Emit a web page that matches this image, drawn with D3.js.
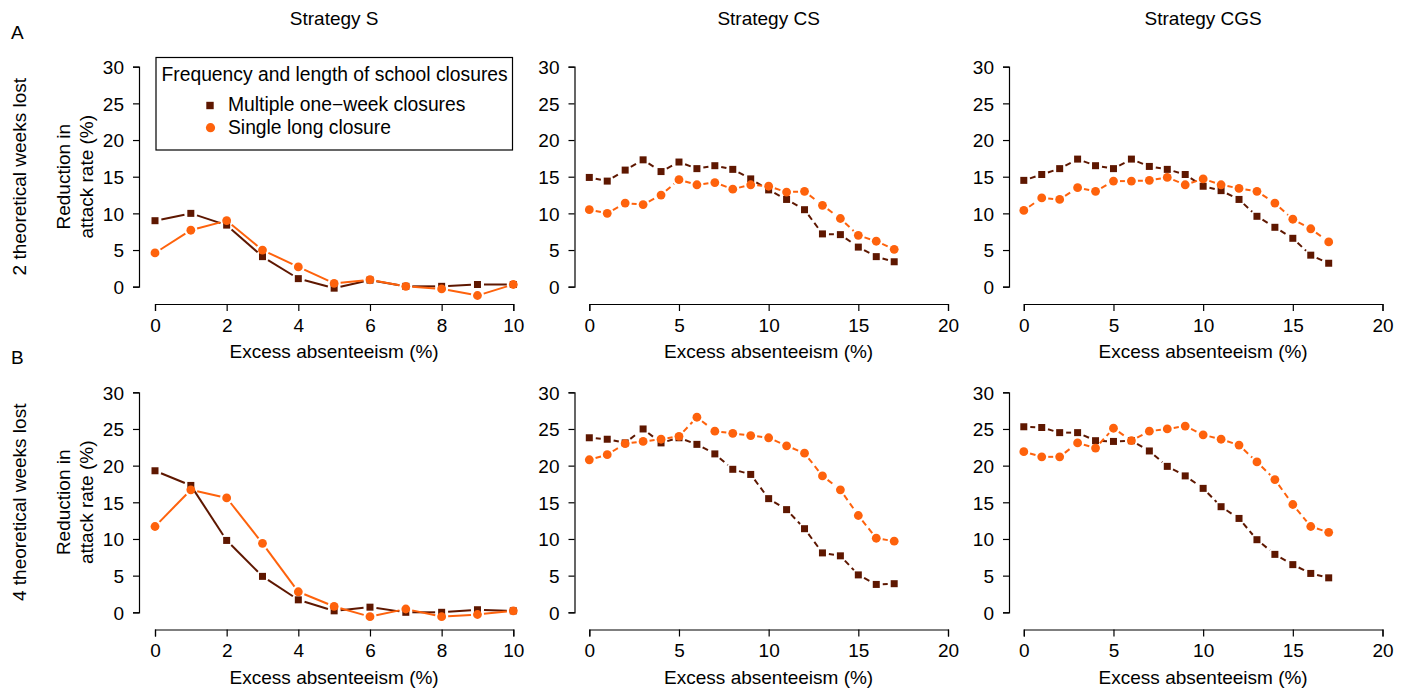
<!DOCTYPE html>
<html>
<head>
<meta charset="utf-8">
<script src="https://cdn.jsdelivr.net/npm/d3@7"></script>
<style>
  html, body { margin: 0; padding: 0; background: #fff; }
  svg { display: block; font-family: "Liberation Sans", Arial, sans-serif; }
  .axis text { font-size: 19px; fill: #000; }
  .axis path, .axis line { stroke: #000; stroke-width: 1.2; }
</style>
</head>
<body>
<svg id="chart" width="1409" height="690"></svg>
<script>
// Strategies (columns) and closure-budget rows
const strategies = ["Strategy S", "Strategy CS", "Strategy CGS"];
const rowLabels = ["2 theoretical weeks lost", "4 theoretical weeks lost"];
const rowLetters = ["A", "B"];
const seriesNames = ["Multiple one\u2212week closures", "Single long closure"];
const legendTitle = "Frequency and length of school closures";
const xTitle = "Excess absenteeism (%)";
const yTitle = ["Reduction in", "attack rate (%)"];

// Excess absenteeism thresholds (%)
const absS = [0, 1, 2, 3, 4, 5, 6, 7, 8, 9, 10];
const absC = [0, 1, 2, 3, 4, 5, 6, 7, 8, 9, 10, 11, 12, 13, 14, 15, 16, 17];

// Tick values
const xTicksS = [0, 2, 4, 6, 8, 10];
const xTicksC = [0, 5, 10, 15, 20];
const yTicks = [0, 5, 10, 15, 20, 25, 30];

// Reduction in attack rate (%) -- row A: 2 weeks lost
const aSMulti   = [9.0, 10.0, 8.4, 4.1, 1.1, -0.2, 0.9, 0.05, 0.05, 0.3, 0.3];
const aSSingle  = [4.6, 7.7, 9.0, 5.0, 2.7, 0.45, 0.95, 0.05, -0.3, -1.2, 0.3];
const aCSMulti  = [14.9, 14.4, 15.9, 17.3, 15.7, 17.0, 16.1, 16.5, 16.0, 14.7, 13.2, 11.9, 10.5, 7.2, 7.1, 5.4, 4.1, 3.4];
const aCSSingle = [10.5, 10.0, 11.4, 11.2, 12.5, 14.6, 13.9, 14.2, 13.3, 13.9, 13.7, 12.9, 13.0, 11.1, 9.3, 7.0, 6.2, 5.1];
const aCGSMulti  = [14.5, 15.3, 16.1, 17.4, 16.5, 16.1, 17.4, 16.4, 16.0, 15.3, 13.7, 13.1, 11.9, 9.6, 8.1, 6.6, 4.3, 3.2];
const aCGSSingle = [10.4, 12.1, 11.9, 13.5, 13.0, 14.4, 14.4, 14.5, 14.9, 13.9, 14.7, 13.9, 13.4, 13.0, 11.4, 9.2, 7.9, 6.1];

// Row B: 4 weeks lost
const bSMulti   = [19.3, 17.3, 9.8, 4.9, 1.7, 0.2, 0.7, 0.0, 0.0, 0.35, 0.2];
const bSSingle  = [11.7, 16.7, 15.6, 9.4, 2.8, 0.8, -0.6, 0.45, -0.6, -0.3, 0.2];
const bCSMulti  = [23.8, 23.6, 23.1, 25.0, 23.1, 23.8, 22.9, 21.6, 19.5, 18.8, 15.5, 14.0, 11.4, 8.1, 7.7, 5.1, 3.8, 3.9];
const bCSSingle = [20.8, 21.5, 23.0, 23.3, 23.6, 24.0, 26.6, 24.7, 24.4, 24.1, 23.8, 22.7, 21.7, 18.6, 16.7, 13.2, 10.1, 9.7];
const bCGSMulti  = [25.3, 25.2, 24.5, 24.5, 23.4, 23.3, 23.4, 22.0, 19.9, 18.6, 16.9, 14.4, 12.8, 9.9, 7.9, 6.5, 5.3, 4.7];
const bCGSSingle = [21.9, 21.2, 21.2, 23.1, 22.4, 25.1, 23.4, 24.7, 25.0, 25.4, 24.2, 23.6, 22.8, 20.5, 18.1, 14.7, 11.7, 10.9];

const colMulti = "#5e1700";
const colSingle = "#fe620c";

const panelData = [
  [[aSMulti, aSSingle], [aCSMulti, aCSSingle], [aCGSMulti, aCGSSingle]],
  [[bSMulti, bSSingle], [bCSMulti, bCSSingle], [bCGSMulti, bCGSSingle]]
];

// Layout
const colX = [
  { x0: 155, x1: 513.3, axis: 139, domain: [0, 10], ticks: xTicksS, xs: absS, dashed: false },
  { x0: 589.3, x1: 948, axis: 574.5, domain: [0, 20], ticks: xTicksC, xs: absC, dashed: true },
  { x0: 1023.8, x1: 1382.5, axis: 1009, domain: [0, 20], ticks: xTicksC, xs: absC, dashed: true }
];
const rowY = [
  { y0: 286.7, y1: 66.7, axis: 304 },
  { y0: 612.3, y1: 392.3, axis: 629.5 }
];

const svg = d3.select("#chart");

// Connect points the way an R type="b" plot does: segments with gaps at the markers
function gappedSegments(pts, gap) {
  const segs = [];
  for (let i = 0; i < pts.length - 1; i++) {
    const [ax, ay] = pts[i], [bx, by] = pts[i + 1];
    const dx = bx - ax, dy = by - ay, len = Math.hypot(dx, dy);
    if (len <= 2 * gap) continue;
    const ux = dx / len, uy = dy / len;
    segs.push([ax + ux * gap, ay + uy * gap, bx - ux * gap, by - uy * gap]);
  }
  return segs;
}

rowY.forEach((r, ri) => {
  const y = d3.scaleLinear().domain([0, 30]).range([r.y0, r.y1]);

  colX.forEach((c, ci) => {
    const x = d3.scaleLinear().domain(c.domain).range([c.x0, c.x1]);
    const g = svg.append("g");

    // Axes
    g.append("g").attr("class", "axis")
      .attr("transform", `translate(${c.axis},0)`)
      .call(d3.axisLeft(y).tickValues(yTicks).tickSizeOuter(0).tickSize(6).tickPadding(9))
      .call(a => a.selectAll("text").attr("dy", "0.36em"));
    g.append("g").attr("class", "axis")
      .attr("transform", `translate(0,${r.axis})`)
      .call(d3.axisBottom(x).tickValues(c.ticks).tickSizeOuter(0).tickSize(7).tickPadding(7.5));

    g.append("text")
      .attr("x", (c.x0 + c.x1) / 2).attr("y", r.axis + 54)
      .attr("text-anchor", "middle").attr("font-size", 19)
      .text(xTitle);

    if (ri === 0) {
      g.append("text")
        .attr("x", (c.x0 + c.x1) / 2).attr("y", 25)
        .attr("text-anchor", "middle").attr("font-size", 19)
        .text(strategies[ci]);
    }

    // Series
    const [multi, single] = panelData[ri][ci];
    [[multi, colMulti, "square"], [single, colSingle, "circle"]].forEach(([vals, col, shape]) => {
      const pts = c.xs.map((d, i) => [x(d), y(vals[i])]);
      g.append("g").selectAll("line")
        .data(gappedSegments(pts, 6.5))
        .join("line")
        .attr("x1", d => d[0]).attr("y1", d => d[1])
        .attr("x2", d => d[2]).attr("y2", d => d[3])
        .attr("stroke", col).attr("stroke-width", 2)
        .attr("stroke-dasharray", c.dashed ? "6,4" : null);
      if (shape === "square") {
        g.append("g").selectAll("rect").data(pts).join("rect")
          .attr("x", d => d[0] - 3.5).attr("y", d => d[1] - 3.5)
          .attr("width", 7).attr("height", 7).attr("fill", col);
      } else {
        g.append("g").selectAll("circle").data(pts).join("circle")
          .attr("cx", d => d[0]).attr("cy", d => d[1]).attr("r", 4.4).attr("fill", col);
      }
    });
  });

  // Row annotations
  const yc = (r.y0 + r.y1) / 2;
  svg.append("text").attr("x", 11).attr("y", ri === 0 ? 39 : 364)
    .attr("font-size", 19).text(rowLetters[ri]);
  svg.append("text")
    .attr("transform", `translate(26,${yc}) rotate(-90)`)
    .attr("text-anchor", "middle").attr("font-size", 19)
    .text(rowLabels[ri]);
  svg.append("text")
    .attr("transform", `translate(70,${yc}) rotate(-90)`)
    .attr("text-anchor", "middle").attr("font-size", 19)
    .text(yTitle[0]);
  svg.append("text")
    .attr("transform", `translate(93,${yc}) rotate(-90)`)
    .attr("text-anchor", "middle").attr("font-size", 19)
    .text(yTitle[1]);
});

// Legend
const lg = svg.append("g");
lg.append("rect").attr("x", 156).attr("y", 57.5).attr("width", 356.5).attr("height", 92.5)
  .attr("fill", "#fff").attr("stroke", "#000").attr("stroke-width", 1.2);
lg.append("text").attr("x", 161.5).attr("y", 81).attr("font-size", 19.3).text(legendTitle);
lg.append("rect").attr("x", 210 - 3.7).attr("y", 105.5 - 3.7).attr("width", 7.4).attr("height", 7.4).attr("fill", colMulti);
lg.append("text").attr("x", 228).attr("y", 111).attr("font-size", 19.3).text(seriesNames[0]);
lg.append("circle").attr("cx", 210.5).attr("cy", 127.7).attr("r", 4.6).attr("fill", colSingle);
lg.append("text").attr("x", 228).attr("y", 133.5).attr("font-size", 19.3).text(seriesNames[1]);
</script>
</body>
</html>
